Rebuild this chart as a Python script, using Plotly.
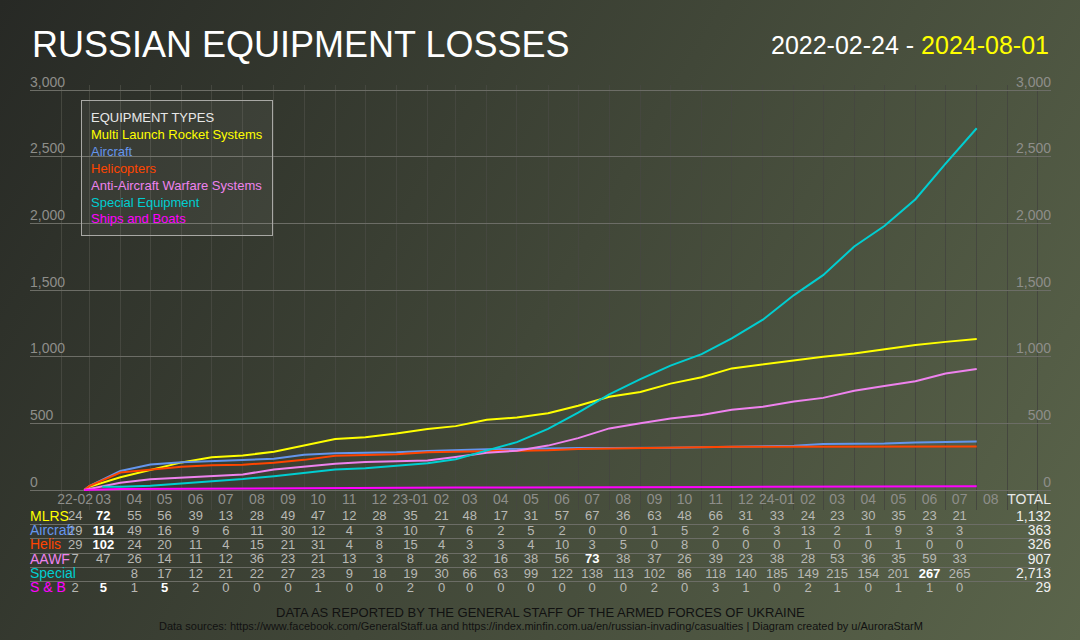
"""Russian equipment losses chart, cumulative lines plus a monthly table underneath"""
import base64
import numpy as np
import pandas as pd
import plotly.graph_objects as go

# month columns of the table (2022-02 .. 2024-08)
MONTH_LABELS = ["22-02", "03", "04", "05", "06", "07", "08", "09", "10", "11", "12",
                "23-01", "02", "03", "04", "05", "06", "07", "08", "09", "10", "11", "12",
                "24-01", "02", "03", "04", "05", "06", "07", "08"]
FIRST_MONTH = "2022-02-01"
WAR_START = "2022-02-24"
REPORT_DATE = "2024-08-01"

# monthly losses as shown in the table (08/2024 has no value yet)
MLRS = [24, 72, 55, 56, 39, 13, 28, 49, 47, 12, 28, 35, 21, 48, 17, 31, 57, 67, 36, 63,
        48, 66, 31, 33, 24, 23, 30, 35, 23, 21]
AIRCRAFT = [29, 114, 49, 16, 9, 6, 11, 30, 12, 4, 3, 10, 7, 6, 2, 5, 2, 0, 0, 1,
            5, 2, 6, 3, 13, 2, 1, 9, 3, 3]
HELIS = [29, 102, 24, 20, 11, 4, 15, 21, 31, 4, 8, 15, 4, 3, 3, 4, 10, 3, 5, 0,
         8, 0, 0, 0, 1, 0, 0, 1, 0, 0]
AAWF = [7, 47, 26, 14, 11, 12, 36, 23, 21, 13, 3, 8, 26, 32, 16, 38, 56, 73, 38, 37,
        26, 39, 23, 38, 28, 53, 36, 35, 59, 33]
SPECIAL = [None, None, 8, 17, 12, 21, 22, 27, 23, 9, 18, 19, 30, 66, 63, 99, 122, 138, 113, 102,
           86, 118, 140, 185, 149, 215, 154, 201, 267, 265]
SHIPS = [2, 5, 1, 5, 2, 0, 0, 0, 1, 0, 0, 2, 0, 0, 0, 0, 0, 0, 0, 2,
         0, 3, 1, 0, 2, 1, 0, 1, 1, 0]
SPECIAL_FIRST_DATE = "2022-03-14"
SPECIAL_FIRST_VALUE = 24
TOTALS = [1132, 363, 326, 907, 2713, 29]

SERIES = [
    ("MLRS", "Multi Launch Rocket Systems", "#ffff00", MLRS),
    ("Aircraft", "Aircraft", "#6495ed", AIRCRAFT),
    ("Helis", "Helicopters", "#ff4500", HELIS),
    ("AAWF", "Anti-Aircraft Warfare Systems", "#ee82ee", AAWF),
    ("Special", "Special Equipment", "#00ced1", SPECIAL),
    ("S & B", "Ships and Boats", "#ff00ff", SHIPS),
]

Y_TICKS = [0, 500, 1000, 1500, 2000, 2500, 3000]
Y_TICK_TEXT = ["0", "500", "1,000", "1,500", "2,000", "2,500", "3,000"]

X_RANGE = ["2022-01-01", "2024-10-14"]
FONT = "Liberation Sans, Arial, sans-serif"
NARROW = "Liberation Sans Narrow, Arial Narrow, Liberation Sans, sans-serif"

# pixel frame of the plot area in the 1080x640 page
L, R, T, B = 30, 29, 85, 44
W, H = 1080 - L - R, 640 - T - B
TABLE_TOP = 510
split = (640 - B - TABLE_TOP) / H

month_starts = pd.date_range(FIRST_MONTH, periods=len(MONTH_LABELS) + 1, freq="MS")
month_mid = month_starts[:-1] + pd.Timedelta(days=14)


def text_trace(x, y, text, color, size, pos="middle center", axes=("x", "y")):
    return go.Scatter(x=x, y=y, mode="text", text=text, textposition=pos,
                      textfont=dict(color=color, size=size, family=FONT),
                      cliponaxis=False, showlegend=False, hoverinfo="skip",
                      xaxis=axes[0], yaxis=axes[1])


fig = go.Figure()

# cumulative lines
for short, name, color, vals in SERIES:
    if short == "Special":
        known = [v for v in vals if v is not None]
        xs = [pd.Timestamp(SPECIAL_FIRST_DATE), month_starts[2]] + list(month_starts[3:3 + len(known)])
        ys = [SPECIAL_FIRST_VALUE, SPECIAL_FIRST_VALUE] + list(SPECIAL_FIRST_VALUE + np.cumsum(known))
    else:
        xs = [pd.Timestamp(WAR_START)] + list(month_starts[1:1 + len(vals)])
        ys = [0] + list(np.cumsum(vals))
    fig.add_trace(go.Scatter(x=xs, y=ys, mode="lines", name=name,
                             line=dict(color=color, width=2), showlegend=False,
                             hoverinfo="skip", xaxis="x", yaxis="y"))

# value labels on both sides, sitting just above their gridline
n_ticks = len(Y_TICKS)
fig.add_trace(text_trace([X_RANGE[0]] * n_ticks, Y_TICKS, Y_TICK_TEXT, "#8e8e8a", 14, "top right"))
fig.add_trace(text_trace([X_RANGE[1]] * n_ticks, Y_TICKS, Y_TICK_TEXT, "#8e8e8a", 14, "top left"))

# month header row
fig.add_trace(text_trace(month_mid, [-75] * len(month_mid), MONTH_LABELS, "#8e8e8a", 14))
fig.add_trace(text_trace([X_RANGE[1]], [-75], ["TOTAL"], "#e8e8e8", 14, "middle left"))

# table rows
n_rows = len(SERIES)
for i, (short, name, color, vals) in enumerate(SERIES):
    row_y = n_rows - i - 0.5
    top = max(v for v in vals if v is not None)
    texts, colors = [], []
    for v in vals:
        if v is None:
            texts.append("")
            colors.append("#b8b8b4")
        elif v == top:
            texts.append(f"<b>{v}</b>")
            colors.append("#ffffff")
        else:
            texts.append(str(v))
            colors.append("#b8b8b4")
    fig.add_trace(text_trace(month_mid[:len(vals)], [row_y] * len(vals), texts, colors, 13,
                             axes=("x2", "y3")))
    fig.add_trace(text_trace([X_RANGE[0]], [row_y], [short], color, 14, "middle right",
                             axes=("x2", "y3")))
    fig.add_trace(text_trace([X_RANGE[1]], [row_y], [f"{TOTALS[i]:,}"], "#f0f0f0", 14,
                             "middle left", axes=("x2", "y3")))

# background gradient as an inline svg
svg = ('<svg xmlns="http://www.w3.org/2000/svg" width="1080" height="640" viewBox="0 0 1080 640">'
       '<defs><linearGradient id="g" gradientUnits="userSpaceOnUse" x1="0" y1="0" x2="1080" y2="640">'
       '<stop offset="0" stop-color="#272925"/><stop offset="1" stop-color="#5b654b"/>'
       '</linearGradient></defs><rect width="1080" height="640" fill="url(#g)"/></svg>')
bg_src = "data:image/svg+xml;base64," + base64.b64encode(svg.encode()).decode()

y_range = [-(TABLE_TOP - 490) * 3000 / 400, (490 - T) * 3000 / 400]

legend_text = "<br>".join(["<span style='color:#e8e8e8'>EQUIPMENT TYPES</span>"] +
                          [f"<span style='color:{c}'>{n}</span>" for _, n, c, _ in SERIES])

fig.update_layout(
    width=1080, height=640,
    margin=dict(l=L, r=R, t=T, b=B),
    paper_bgcolor="#3a3e33", plot_bgcolor="rgba(0,0,0,0)",
    font=dict(family=FONT),
    images=[dict(source=bg_src, xref="paper", yref="paper", x=-L / W, y=1 + T / H,
                 sizex=1080 / W, sizey=640 / H, xanchor="left", yanchor="top",
                 sizing="stretch", layer="below")],
    xaxis=dict(type="date", range=X_RANGE, domain=[0, 1], anchor="y",
               tickvals=list(month_starts) + [month_starts[-1] + pd.offsets.MonthBegin(1)],
               showticklabels=False, showgrid=True, gridcolor="#45473f", gridwidth=1,
               zeroline=False, showline=False, ticks=""),
    xaxis2=dict(type="date", range=X_RANGE, domain=[0, 1], anchor="y3",
                visible=False, showgrid=False),
    yaxis=dict(domain=[split, 1], range=y_range, anchor="x", tickvals=Y_TICKS,
               showticklabels=False, showgrid=True, gridcolor="#6c6d66", gridwidth=1,
               zeroline=False, ticks=""),
    yaxis3=dict(domain=[0, split], range=[0, n_rows], anchor="x2",
                tickvals=list(range(n_rows + 1)), showticklabels=False,
                showgrid=True, gridcolor="#6c6d66", gridwidth=1, zeroline=False, ticks=""),
    annotations=[
        dict(text="RUSSIAN EQUIPMENT LOSSES", xref="paper", yref="paper",
             x=0, y=1 + (T - 44) / H, xanchor="left", yanchor="middle", showarrow=False,
             font=dict(color="#ffffff", size=36, family=FONT)),
        dict(text=f"<span style='color:#ffffff'>{WAR_START} - </span>"
                  f"<span style='color:#ffff00'>{REPORT_DATE}</span>",
             xref="paper", yref="paper", x=1, y=1 + (T - 45) / H,
             xanchor="right", yanchor="middle", showarrow=False,
             font=dict(size=25, family=FONT)),
        dict(text=legend_text, xref="paper", yref="paper", x=(81 - L) / W, y=1 - (100 - T) / H,
             xanchor="left", yanchor="top", align="left", showarrow=False,
             bordercolor="#a8a8a4", borderwidth=1, borderpad=9,
             bgcolor="rgba(255,255,255,0.05)", font=dict(size=13, family=FONT)),
        dict(text="DATA AS REPORTED BY THE GENERAL STAFF OF THE ARMED FORCES OF UKRAINE",
             xref="paper", yref="paper", x=0.5, y=-(612 - (640 - B)) / H,
             xanchor="center", yanchor="middle", showarrow=False,
             font=dict(color="#111111", size=13, family=NARROW)),
        dict(text="Data sources: https://www.facebook.com/GeneralStaff.ua and "
                  "https://index.minfin.com.ua/en/russian-invading/casualties | "
                  "Diagram created by u/AuroraStarM",
             xref="paper", yref="paper", x=0.5, y=-(626 - (640 - B)) / H,
             xanchor="center", yanchor="middle", showarrow=False,
             font=dict(color="#111111", size=11, family=NARROW)),
    ],
)

# the page body has a default margin, drop it so the figure fills the window
fig.write_html("out.html", config={"displayModeBar": False},
               post_script="document.body.style.margin = '0';")
